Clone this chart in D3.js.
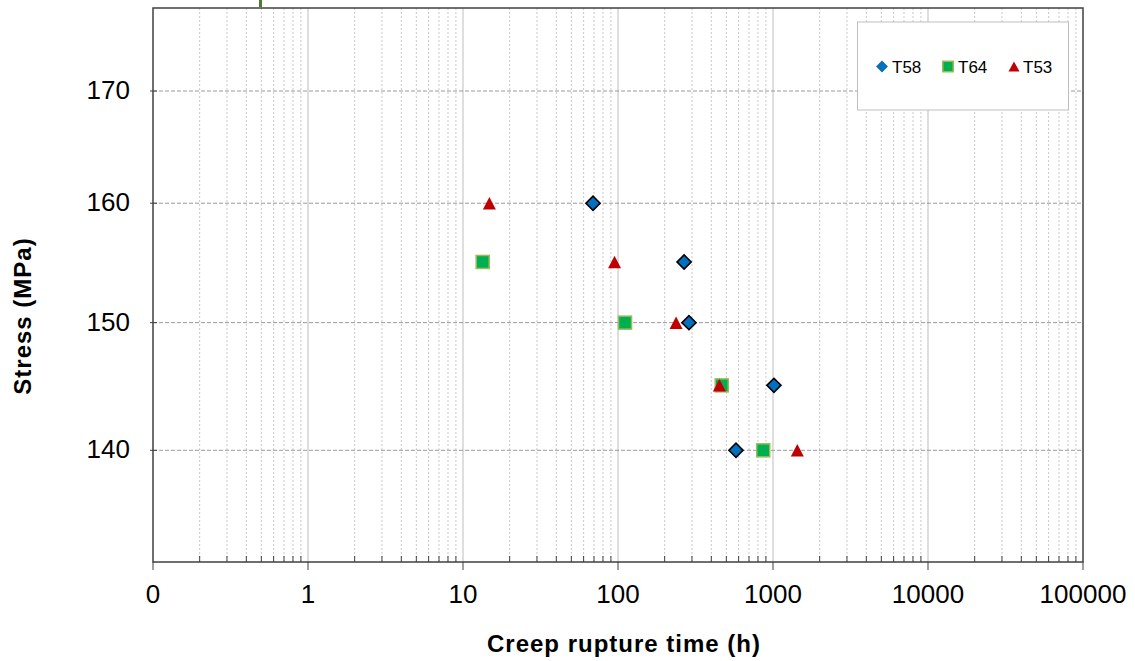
<!DOCTYPE html>
<html>
<head>
<meta charset="utf-8">
<script src="https://cdn.jsdelivr.net/npm/d3@7"></script>
<style>
  body { margin: 0; background: #fff; }
  svg text { font-family: "Liberation Sans", Arial, sans-serif; fill: #000; }
</style>
</head>
<body>
<svg id="chart" width="1135" height="661"></svg>
<script>
"use strict";

// Data.
const xTickValues = [0.1, 1, 10, 100, 1000, 10000, 100000];
const xTickLabels = ["0", "1", "10", "100", "1000", "10000", "100000"];
const yTickValues = [140, 150, 160, 170];
const seriesNames = ["T58", "T64", "T53"];
const t58Time = [69, 267, 287, 1014, 577];
const t58Stress = [160, 155, 150, 145, 140];
const t64Time = [13.4, 111, 467, 865];
const t64Stress = [155, 150, 145, 140];
const t53Time = [14.8, 95, 237, 451, 1435];
const t53Stress = [160, 155, 150, 145, 140];

const svg = d3.select("#chart");
const plot = { left: 153, right: 1083, top: 8, bottom: 562 };

const x = d3.scaleLog().domain([0.1, 100000]).range([plot.left, plot.right]);
const y = d3.scaleLog().domain([131.8, 177.8]).range([plot.bottom, plot.top]);

// Minor positions 2..9 within every decade.
const minorValues = [];
xTickValues.slice(0, -1).forEach((d) => {
  for (let k = 2; k <= 9; k++) minorValues.push(d * k);
});

const grid = svg.append("g");

// Vertical grid.
grid.selectAll(".vminor")
    .data(minorValues)
    .enter().append("line")
    .attr("x1", (d) => x(d)).attr("x2", (d) => x(d))
    .attr("y1", plot.top).attr("y2", plot.bottom)
    .attr("stroke", "#c8c8c8")
    .attr("stroke-dasharray", "2,2");

grid.selectAll(".vmajor")
    .data(xTickValues.slice(1, -1))
    .enter().append("line")
    .attr("x1", (d) => x(d)).attr("x2", (d) => x(d))
    .attr("y1", plot.top).attr("y2", plot.bottom)
    .attr("stroke", "#bdbdbd");

// Horizontal grid.
grid.selectAll(".hgrid")
    .data(yTickValues)
    .enter().append("line")
    .attr("x1", plot.left).attr("x2", plot.right)
    .attr("y1", (d) => y(d)).attr("y2", (d) => y(d))
    .attr("stroke", "#9a9a9a")
    .attr("stroke-dasharray", "4,2");

// Frame.
svg.append("rect")
    .attr("x", plot.left).attr("y", plot.top)
    .attr("width", plot.right - plot.left)
    .attr("height", plot.bottom - plot.top)
    .attr("fill", "none")
    .attr("stroke", "#404040")
    .attr("stroke-width", 1.5);

// X ticks: major outward, minor inward.
svg.selectAll(".xmajor")
    .data(xTickValues)
    .enter().append("line")
    .attr("x1", (d) => x(d)).attr("x2", (d) => x(d))
    .attr("y1", plot.bottom).attr("y2", plot.bottom + 8)
    .attr("stroke", "#404040");

svg.selectAll(".xminor")
    .data(minorValues)
    .enter().append("line")
    .attr("x1", (d) => x(d)).attr("x2", (d) => x(d))
    .attr("y1", plot.bottom).attr("y2", plot.bottom - 6)
    .attr("stroke", "#404040");

svg.selectAll(".xlabel")
    .data(xTickValues)
    .enter().append("text")
    .attr("x", (d) => x(d))
    .attr("y", 603)
    .attr("text-anchor", "middle")
    .style("font-size", "26px")
    .text((d, i) => xTickLabels[i]);

// Y ticks.
svg.selectAll(".ytick")
    .data(yTickValues)
    .enter().append("line")
    .attr("x1", plot.left - 3).attr("x2", plot.left + 4)
    .attr("y1", (d) => y(d)).attr("y2", (d) => y(d))
    .attr("stroke", "#404040");

svg.selectAll(".ylabel")
    .data(yTickValues)
    .enter().append("text")
    .attr("x", 130)
    .attr("y", (d) => y(d) + 8)
    .attr("text-anchor", "end")
    .style("font-size", "26px")
    .text((d) => d);

// Axis titles.
svg.append("text")
    .attr("x", 624).attr("y", 652)
    .attr("text-anchor", "middle")
    .style("font-size", "24px")
    .style("font-weight", "bold")
    .style("letter-spacing", "1px")
    .text("Creep rupture time (h)");

svg.append("text")
    .attr("transform", "translate(31,316) rotate(-90)")
    .attr("text-anchor", "middle")
    .style("font-size", "24px")
    .style("font-weight", "bold")
    .style("letter-spacing", "1px")
    .text("Stress (MPa)");

// Marker painters.
const diamond = (g, s, stroke, sw) => g.append("rect")
    .attr("x", -s / 2).attr("y", -s / 2)
    .attr("width", s).attr("height", s)
    .attr("transform", "rotate(45)")
    .attr("fill", "#0070C0")
    .attr("stroke", stroke)
    .attr("stroke-width", sw);

const square = (g, s) => g.append("rect")
    .attr("x", -s / 2).attr("y", -s / 2)
    .attr("width", s).attr("height", s)
    .attr("fill", "#00B050")
    .attr("stroke", "#9BBB59")
    .attr("stroke-width", 1.5);

const triangle = (g, w, h) => g.append("path")
    .attr("d", "M0," + (-h / 2) + "L" + (w / 2) + "," + (h / 2) + "L" + (-w / 2) + "," + (h / 2) + "Z")
    .attr("fill", "#C00000");

const points = (times, stresses) => times.map((t, i) => ({ t: t, s: stresses[i] }));

const place = (data) => svg.append("g").selectAll("g")
    .data(data)
    .enter().append("g")
    .attr("transform", (d) => "translate(" + x(d.t) + "," + y(d.s) + ")");

place(points(t58Time, t58Stress)).each(function () { diamond(d3.select(this), 10, "#000", 1.6); });
place(points(t64Time, t64Stress)).each(function () { square(d3.select(this), 13); });
place(points(t53Time, t53Stress)).each(function () { triangle(d3.select(this), 13, 12.5); });

// Legend.
const legend = svg.append("g");
legend.append("rect")
    .attr("x", 857.5).attr("y", 22)
    .attr("width", 211).attr("height", 88)
    .attr("fill", "#fff")
    .attr("stroke", "#bfbfbf");

const legendX = [882, 948, 1014];
const legendItem = legend.selectAll(".item")
    .data(seriesNames)
    .enter().append("g")
    .attr("transform", (d, i) => "translate(" + legendX[i] + ",66.5)");

legendItem.each(function (d, i) {
  const g = d3.select(this);
  if (i === 0) diamond(g, 8, "#1f4e79", 0.5);
  else if (i === 1) square(g, 10.5);
  else triangle(g, 11, 10);
});

legendItem.append("text")
    .attr("x", (d, i) => [10, 10, 9][i])
    .attr("y", 6)
    .style("font-size", "17px")
    .text((d) => d);

// Small green mark above the plot.
svg.append("rect")
    .attr("x", 259).attr("y", 0)
    .attr("width", 3).attr("height", 7)
    .attr("fill", "#4f7a32");
</script>
</body>
</html>
